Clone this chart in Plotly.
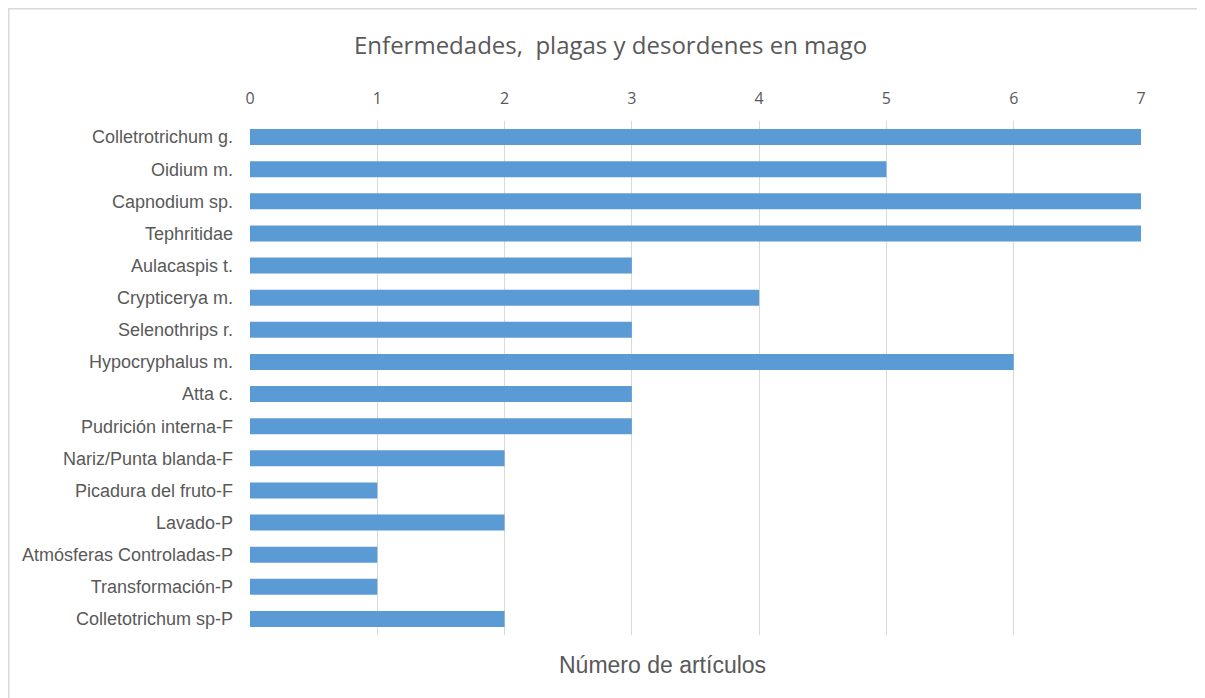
import plotly.graph_objects as go

categories = [
    "Colletrotrichum g.", "Oidium m.", "Capnodium sp.", "Tephritidae",
    "Aulacaspis t.", "Crypticerya m.", "Selenothrips r.", "Hypocryphalus m.",
    "Atta c.", "Pudrición interna-F", "Nariz/Punta blanda-F", "Picadura del fruto-F",
    "Lavado-P", "Atmósferas Controladas-P", "Transformación-P", "Colletotrichum sp-P",
]
values = [7, 5, 7, 7, 3, 4, 3, 6, 3, 3, 2, 1, 2, 1, 1, 2]
x_ticks = [0, 1, 2, 3, 4, 5, 6, 7]

# page has an 8px body margin; work in reference pixel coords shifted by 8
OFF = 8
W, H = 1205 - OFF, 698 - OFF
L, R, T, B = 250 - OFF, 1141 - OFF, 121 - OFF, 635 - OFF
pw, ph = R - L, B - T

def px(x):
    return (x - OFF - L) / pw

def py(y):
    return (B - (y - OFF)) / ph

fig = go.Figure(go.Bar(
    y=categories, x=values, orientation="h",
    marker=dict(color="#5B9BD5", line=dict(width=0)),
    width=0.5,
))

fig.update_layout(
    width=W, height=H,
    margin=dict(l=L, r=W - R, t=T, b=H - B),
    paper_bgcolor="white", plot_bgcolor="white",
    showlegend=False,
    xaxis=dict(
        side="top", range=[0, 7], tickvals=x_ticks,
        showgrid=True, gridcolor="#D9D9D9", gridwidth=1,
        zeroline=False, showline=False, ticks="",
        tickfont=dict(family="Open Sans, Lato, sans-serif", size=16, color="#595959"),
        ticklabelstandoff=13, fixedrange=True,
    ),
    yaxis=dict(
        autorange="reversed", showgrid=False, zeroline=False, showline=False,
        ticks="", ticklabelstandoff=16,
        tickfont=dict(family="Liberation Sans, Arial, sans-serif", size=18, color="#595959"),
        fixedrange=True,
    ),
    shapes=[dict(
        type="rect", xref="paper", yref="paper",
        x0=px(8.8), x1=px(1203.5), y0=py(710), y1=py(8.8),
        line=dict(color="#D9D9D9", width=1.5), fillcolor="rgba(0,0,0,0)", layer="below",
    )],
    annotations=[
        dict(text="Enfermedades,  plagas y desordenes en mago", xref="paper", yref="paper",
             x=px(610), y=py(44), xanchor="center", yanchor="middle", showarrow=False,
             font=dict(family="Open Sans, Lato, sans-serif", size=24, color="#595959")),
        dict(text="Número de artículos", xref="paper", yref="paper",
             x=px(662), y=py(665), xanchor="center", yanchor="middle", showarrow=False,
             font=dict(family="Liberation Sans, Arial, sans-serif", size=23, color="#595959")),
    ],
)

fig.write_html("out.html")
